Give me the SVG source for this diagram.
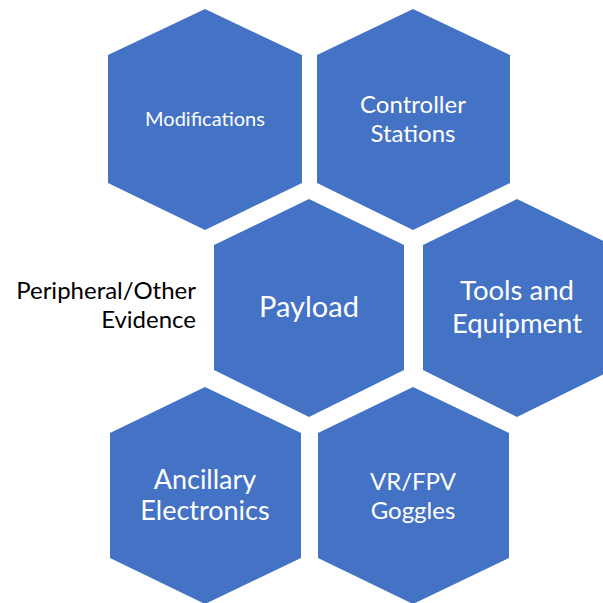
<svg xmlns="http://www.w3.org/2000/svg" width="603" height="603" viewBox="0 0 603 603">
<style>
.hex{fill:#4472C4}
.t{font-family:Lato,"Liberation Sans",sans-serif;fill:#FFFFFF;text-anchor:middle}
.lbl{font-family:Lato,"Liberation Sans",sans-serif;fill:#000000;text-anchor:end}
</style>
<rect width="603" height="603" fill="#FFFFFF"/>
<g id="connectors"></g>
<g id="modifications">
<polygon class="hex" points="205,9 302,55 302,183 205,230 108,183 108,55"/>
<text class="t" x="205" y="126" font-size="20">Modifications</text>
</g>
<g id="controller-stations">
<polygon class="hex" points="413,9 510,55 510,183 413,230 317,183 317,55"/>
<text class="t" x="413" y="113" font-size="24">Controller</text>
<text class="t" x="413" y="142" font-size="24">Stations</text>
</g>
<g id="payload">
<polygon class="hex" points="309,199 404,245 404,370 309,417 214,370 214,245"/>
<text class="t" x="309" y="317" font-size="29">Payload</text>
</g>
<g id="tools-equipment">
<polygon class="hex" points="517,199 612,245 612,370 517,417 423,370 423,245"/>
<text class="t" x="517" y="300" font-size="27.5">Tools and</text>
<text class="t" x="517" y="333" font-size="27.5">Equipment</text>
</g>
<g id="ancillary-electronics">
<polygon class="hex" points="205,387 301,433 301,558 205,604 110,558 110,433"/>
<text class="t" x="205" y="489" font-size="27">Ancillary</text>
<text class="t" x="205" y="520" font-size="27">Electronics</text>
</g>
<g id="vr-fpv-goggles">
<polygon class="hex" points="413,387 509,433 509,558 413,604 318,558 318,433"/>
<text class="t" x="413" y="490" font-size="24">VR/FPV</text>
<text class="t" x="413" y="519" font-size="24">Goggles</text>
</g>
<g id="peripheral-label">
<text class="lbl" x="196" y="299" font-size="24">Peripheral/Other</text>
<text class="lbl" x="196" y="328" font-size="24">Evidence</text>
</g>
</svg>
